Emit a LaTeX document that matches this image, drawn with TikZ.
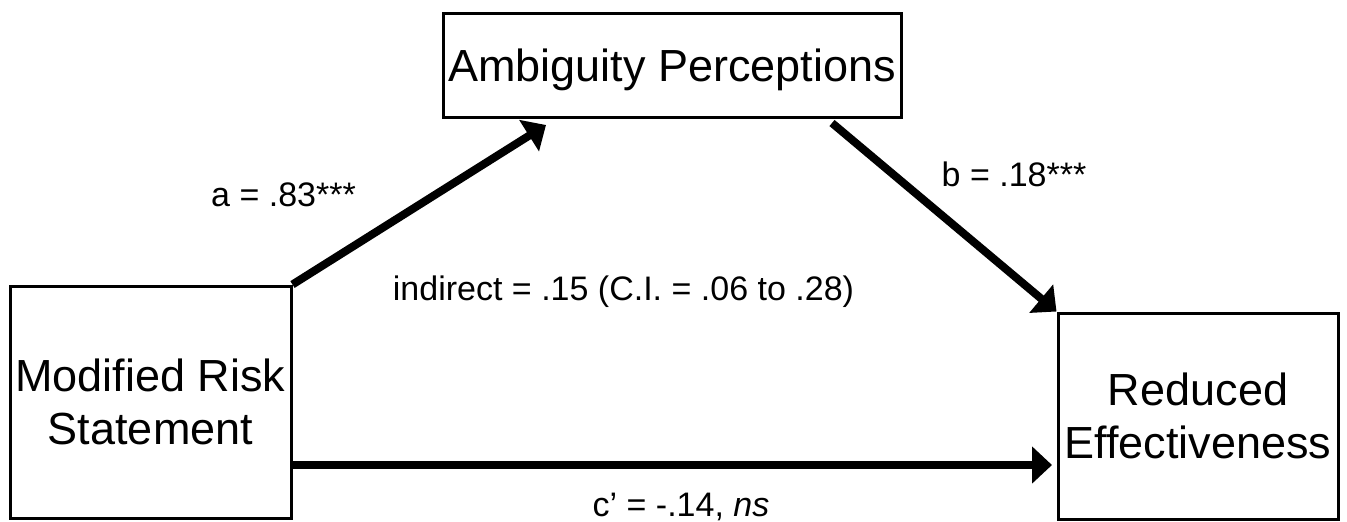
\documentclass[tikz,border=0pt]{standalone}
\usepackage{fontspec}
\setmainfont{Liberation Sans}
\usetikzlibrary{arrows.meta}

\begin{document}
\begin{tikzpicture}[
  x={(0.5pt,0pt)},
  y={(0pt,-0.5pt)},
  box/.style={draw=black,line width=1.5pt,rectangle,inner sep=0pt,align=center,
    font=\fontsize{22.5}{26.5}\selectfont},
  link/.style={draw=black,line width=4pt,-{Triangle[length=10pt,width=18pt]}},
  coef/.style={anchor=base,inner sep=0pt,font=\fontsize{17}{20}\selectfont}
]
  \useasboundingbox (0,0) rectangle (1347,521);

  % Variables of the mediation model.
  \node[box,minimum width=140.5pt,minimum height=116pt] (mrs) at (150.5,402) {Modified Risk\\Statement};
  \node[box,minimum width=229pt,minimum height=52pt,text depth=0pt] (ap) at (672,65) {Ambiguity Perceptions};
  \node[box,minimum width=140pt,minimum height=103pt] (re) at (1198,416) {Reduced\\Effectiveness};

  % Free arrow ends.
  \coordinate (aend) at (546,125);
  \coordinate (bstart) at (832,123);
  \coordinate (cend) at (1052,465);

  % Paths a, b and c'.
  \draw[link] (mrs.north east) -- (aend);
  \draw[link] (bstart) -- (re.north west);
  \draw[link] (mrs.east |- cend) -- (cend);

  % Coefficients.
  \node[coef] (acoef) at (283.5,206) {a = .83***};
  \node[coef] (bcoef) at (1014,186) {b = .18***};
  \node[coef] (indirect) at (623.5,300) {indirect = .15 (C.I. = .06 to .28)};
  \node[coef] (ccoef) at (681,516) {c’ = -.14, \textit{ns}};
\end{tikzpicture}
\end{document}
